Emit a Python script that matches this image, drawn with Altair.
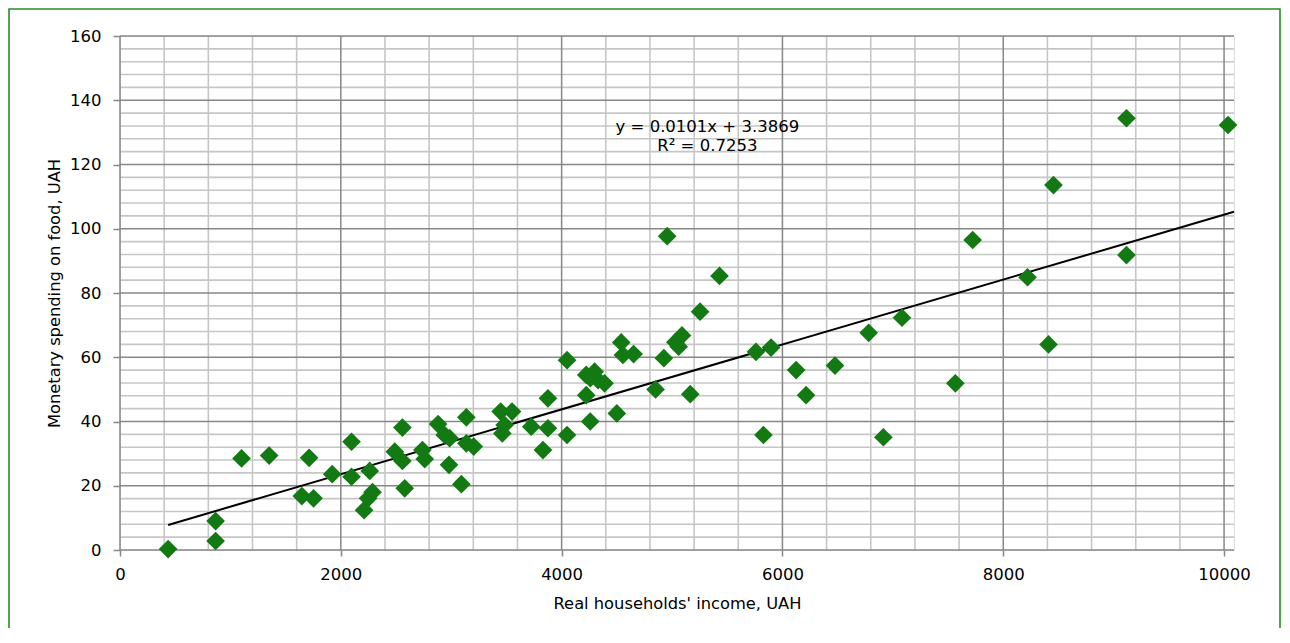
import altair as alt
import pandas as pd

income = [436, 866, 866, 1101, 1351, 1713, 1647, 1753, 1922, 2097, 2097, 2262, 2287, 2247, 2211,
          2558, 2489, 2558, 2579, 2739, 2760, 2881, 2941, 2986, 2980, 3092, 3137, 3137, 3204,
          3448, 3551, 3463, 3484, 3725, 3831, 3876, 3876, 4049, 4049, 4223, 4299, 4330, 4389,
          4260, 4223, 4259, 4500, 4540, 4555, 4652, 4851, 4926, 4956, 5030, 5060, 5090, 5165,
          5254, 5430, 5760, 5828, 5897, 6124, 6214, 6476, 6781, 6914, 7083, 7566, 7723, 8220,
          8410, 8455, 9116, 9116, 10036]
spending = [0.3, 9.0, 2.8, 28.5, 29.4, 28.7, 16.8, 16.1, 23.6, 33.7, 22.8, 24.6, 18.0, 16.1, 12.4,
            38.1, 30.6, 27.7, 19.2, 31.1, 28.3, 39.2, 35.8, 34.8, 26.5, 20.5, 41.3, 33.2, 32.2,
            43.1, 43.1, 36.3, 38.9, 38.4, 31.1, 47.2, 37.9, 59.1, 35.8, 54.5, 55.5, 52.9, 51.9,
            53.5, 48.2, 40.0, 42.5, 64.6, 60.7, 61.0, 50.0, 59.7, 97.7, 64.7, 63.3, 66.8, 48.5,
            74.2, 85.3, 61.7, 35.8, 63.0, 56.0, 48.2, 57.4, 67.6, 35.1, 72.3, 51.9, 96.5, 84.9,
            64.0, 113.6, 134.4, 91.8, 132.3]

slope = 0.0101
intercept = 3.3869
eq_text = ["y = 0.0101x + 3.3869", "R² = 0.7253"]

x_major = [0, 2000, 4000, 6000, 8000, 10000]
y_major = [0, 20, 40, 60, 80, 100, 120, 140, 160]
x_minor = [v for v in range(0, 10001, 400) if v % 2000 != 0]
y_minor = [v for v in range(0, 161, 4) if v % 20 != 0]
X_MAX = 10090

FONT = "DejaVu Sans"
MAJOR = "#878787"
MINOR = "#c6c6c6"
GREEN = "#137a13"

pts = pd.DataFrame({"income": income, "spending": spending})
xs = alt.Scale(domain=[0, X_MAX], nice=False, zero=False)
ys = alt.Scale(domain=[0, 160], nice=False, zero=False)

xaxis = alt.Axis(values=x_major, format="d", grid=False, domain=False, tickColor=MAJOR,
                 tickWidth=1.5, tickSize=6, labelPadding=10, labelFontSize=16.5,
                 labelFont=FONT, labelColor="black", labelFlush=False, labelOverlap=False,
                 title="Real households' income, UAH", titleFont=FONT,
                 titleFontSize=16.3, titleFontWeight="normal", titleColor="black",
                 titlePadding=13)
yaxis = alt.Axis(values=y_major, format="d", grid=False, domain=False, tickColor=MAJOR,
                 tickWidth=1.5, tickSize=7, labelPadding=12, labelFontSize=16.5,
                 labelFont=FONT, labelColor="black", labelFlush=False, labelOverlap=False,
                 title="Monetary spending on food, UAH", titleFont=FONT,
                 titleFontSize=16.3, titleFontWeight="normal", titleColor="black",
                 titlePadding=7)

vminor = alt.Chart(pd.DataFrame({"gx": x_minor})).mark_rule(color=MINOR, strokeWidth=1.6).encode(
    x=alt.X("gx:Q", scale=xs, axis=xaxis))
hminor = alt.Chart(pd.DataFrame({"gy": y_minor})).mark_rule(color=MINOR, strokeWidth=1.6).encode(
    y=alt.Y("gy:Q", scale=ys, axis=yaxis))
vmajor = alt.Chart(pd.DataFrame({"gx": x_major})).mark_rule(color=MAJOR, strokeWidth=1.5).encode(
    x=alt.X("gx:Q", scale=xs, axis=xaxis))
hmajor = alt.Chart(pd.DataFrame({"gy": y_major})).mark_rule(color=MAJOR, strokeWidth=1.5).encode(
    y=alt.Y("gy:Q", scale=ys, axis=yaxis))

points = alt.Chart(pts).mark_point(shape="diamond", filled=True, size=350, color=GREEN,
                                   opacity=1).encode(
    x=alt.X("income:Q", scale=xs, axis=xaxis),
    y=alt.Y("spending:Q", scale=ys, axis=yaxis),
)

x_ends = [min(income), X_MAX]
trend_df = pd.DataFrame({"tx": x_ends, "ty": [slope * v + intercept for v in x_ends]})
trend = alt.Chart(trend_df).mark_line(color="black", strokeWidth=2).encode(
    x=alt.X("tx:Q", scale=xs, axis=xaxis), y=alt.Y("ty:Q", scale=ys, axis=yaxis))

ann_df = pd.DataFrame({"ax": [5320, 5320], "ay": [131.7, 125.8], "t": eq_text})
ann = alt.Chart(ann_df).mark_text(font=FONT, fontSize=16.5, color="black", align="center",
                                  baseline="middle").encode(
    x=alt.X("ax:Q", scale=xs, axis=xaxis), y=alt.Y("ay:Q", scale=ys, axis=yaxis), text="t:N")

border = alt.Chart(pd.DataFrame({"d": [0]})).mark_rect(
    fill=None, stroke="#2a8a2a", strokeWidth=1.6).encode(
    x=alt.value(-111), x2=alt.value(1160), y=alt.value(-27), y2=alt.value(640))

chart = alt.layer(border, hminor, vminor, hmajor, vmajor, trend, points, ann).properties(
    width=1114, height=514,
    autosize=alt.AutoSizeParams(type="none"),
    padding={"left": 112, "top": 28, "right": 47, "bottom": 78},
).configure_view(stroke=None).configure(background="white")

chart.save("out.html", embed_options={"renderer": "svg", "actions": False})
